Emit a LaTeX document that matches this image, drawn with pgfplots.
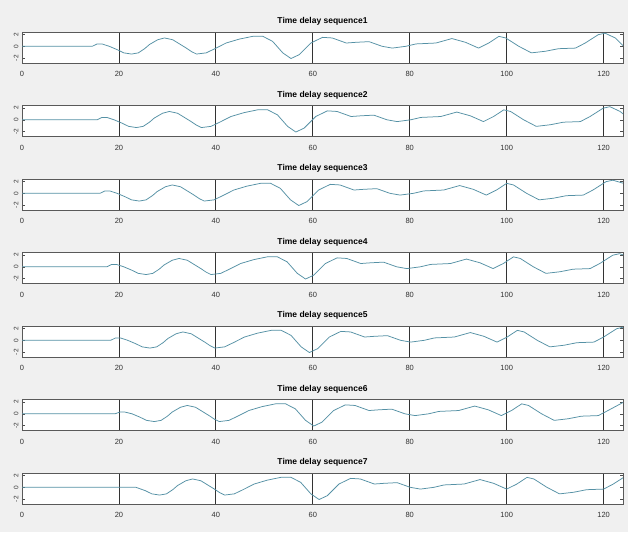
\documentclass[border=0pt]{standalone}
\usepackage{pgfplots}
\pgfplotsset{compat=1.18}
\usepackage{fontspec}
\setmainfont{Liberation Sans}
\definecolor{bgc}{RGB}{240,240,240}
\definecolor{lc}{RGB}{85,145,165}
\pgfplotsset{
  seqax/.style={
    scale only axis, width=601pt, height=31pt,
    anchor=north west,
    xmin=0, xmax=124, ymin=-2.8, ymax=2.4,
    axis background/.style={fill=white},
    axis line style={black!65, line width=0.7pt},
    xtick={0,20,...,120}, ytick={-2,0,2},
    xtick style={draw=none},
    xmajorgrids, major x grid style={black!80, line width=0.8pt},
    ytick pos=both, yticklabel pos=left,
    tick align=inside, major tick length=3pt,
    ytick style={black!70, line width=0.6pt},
    /pgf/number format/assume math mode=true,
    xticklabel style={font=\fontsize{7.5}{7.5}\selectfont, yshift=-5pt, text=black!80},
    yticklabel style={font=\fontsize{6.5}{6.5}\selectfont, rotate=90, anchor=south, text=black!80},
    title style={font=\bfseries\fontsize{8.5}{8.5}\selectfont, yshift=-3pt},
  },
  sig/.style={lc, line width=0.75pt, no markers, line join=round},
}
\begin{document}
\begin{tikzpicture}
\fill[bgc] (0pt,0pt) rectangle (628pt,532pt);
% 1
\begin{axis}[seqax, at={(22pt,500pt)}, title={Time delay sequence1}]
\addplot[sig] coordinates {(0,0) (14.5,0) (15.5,0.4) (16.5,0.4) (18,0) (19.6,-0.55) (21,-1.1) (22.6,-1.3) (24,-1.1) (25.3,-0.4) (26.3,0.3) (28,1.1) (29.4,1.4) (31.1,1.1) (32.5,0.4) (33.9,-0.3) (35,-0.9) (36,-1.3) (38,-1.1) (39.8,-0.4) (42.1,0.55) (44.8,1.2) (47.6,1.67) (49.7,1.67) (51.7,0.83) (53.8,-1.1) (55.5,-2.05) (57.2,-1.4) (59.6,0.55) (62,1.5) (64,1.4) (66.9,0.55) (68.9,0.67) (71.6,0.78) (74.3,0) (76.4,-0.3) (79.2,0) (81.3,0.4) (85.4,0.55) (88.7,1.3) (91.5,0.67) (94.2,-0.3) (96.3,0.55) (98.4,1.67) (99.8,1.4) (102.5,0) (105.1,-1.1) (108,-0.83) (110.7,-0.4) (114.2,-0.3) (116.2,0.55) (118.9,1.95) (120.3,2.2) (122.4,1.4) (124,0.1)};
\end{axis}
% 2
\begin{axis}[seqax, at={(22pt,426.5pt)}, title={Time delay sequence2}]
\addplot[sig] coordinates {(0,0) (15.5,0) (16.5,0.4) (17.5,0.4) (19,0) (20.6,-0.55) (22,-1.1) (23.6,-1.3) (25,-1.1) (26.3,-0.4) (27.3,0.3) (29,1.1) (30.4,1.4) (32.1,1.1) (33.5,0.4) (34.9,-0.3) (36,-0.9) (37,-1.3) (39,-1.1) (40.8,-0.4) (43.1,0.55) (45.8,1.2) (48.6,1.67) (50.7,1.67) (52.7,0.83) (54.8,-1.1) (56.5,-2.05) (58.2,-1.4) (60.6,0.55) (63,1.5) (65,1.4) (67.9,0.55) (69.9,0.67) (72.6,0.78) (75.3,0) (77.4,-0.3) (80.2,0) (82.3,0.4) (86.4,0.55) (89.7,1.3) (92.5,0.67) (95.2,-0.3) (97.3,0.55) (99.4,1.67) (100.8,1.4) (103.5,0) (106.1,-1.1) (109,-0.83) (111.7,-0.4) (115.2,-0.3) (117.2,0.55) (119.9,1.95) (121.3,2.2) (123.4,1.4) (124,1.0)};
\end{axis}
% 3
\begin{axis}[seqax, at={(22pt,353pt)}, title={Time delay sequence3}]
\addplot[sig] coordinates {(0,0) (16.1,0) (17.1,0.4) (18.1,0.4) (19.6,0) (21.2,-0.55) (22.6,-1.1) (24.2,-1.3) (25.6,-1.1) (26.9,-0.4) (27.9,0.3) (29.6,1.1) (31,1.4) (32.7,1.1) (34.1,0.4) (35.5,-0.3) (36.6,-0.9) (37.6,-1.3) (39.6,-1.1) (41.4,-0.4) (43.7,0.55) (46.4,1.2) (49.2,1.67) (51.3,1.67) (53.3,0.83) (55.4,-1.1) (57.1,-2.05) (58.8,-1.4) (61.2,0.55) (63.6,1.5) (65.6,1.4) (68.5,0.55) (70.5,0.67) (73.2,0.78) (75.9,0) (78,-0.3) (80.8,0) (82.9,0.4) (87,0.55) (90.3,1.3) (93.1,0.67) (95.8,-0.3) (97.9,0.55) (100,1.67) (101.4,1.4) (104.1,0) (106.7,-1.1) (109.6,-0.83) (112.3,-0.4) (115.8,-0.3) (117.8,0.55) (120.5,1.95) (121.9,2.2) (124,1.7)};
\end{axis}
% 4
\begin{axis}[seqax, at={(22pt,279.5pt)}, title={Time delay sequence4}]
\addplot[sig] coordinates {(0,0) (17.5,0) (18.5,0.4) (19.5,0.4) (21,0) (22.6,-0.55) (24,-1.1) (25.6,-1.3) (27,-1.1) (28.3,-0.4) (29.3,0.3) (31,1.1) (32.4,1.4) (34.1,1.1) (35.5,0.4) (36.9,-0.3) (38,-0.9) (39,-1.3) (41,-1.1) (42.8,-0.4) (45.1,0.55) (47.8,1.2) (50.6,1.67) (52.7,1.67) (54.7,0.83) (56.8,-1.1) (58.5,-2.05) (60.2,-1.4) (62.6,0.55) (65,1.5) (67,1.4) (69.9,0.55) (71.9,0.67) (74.6,0.78) (77.3,0) (79.4,-0.3) (82.2,0) (84.3,0.4) (88.4,0.55) (91.7,1.3) (94.5,0.67) (97.2,-0.3) (99.3,0.55) (101.4,1.67) (102.8,1.4) (105.5,0) (108.1,-1.1) (111,-0.83) (113.7,-0.4) (117.2,-0.3) (119.2,0.55) (121.9,1.95) (123.3,2.2) (124,2.0)};
\end{axis}
% 5
\begin{axis}[seqax, at={(22pt,206pt)}, title={Time delay sequence5}]
\addplot[sig] coordinates {(0,0) (18.3,0) (19.3,0.4) (20.3,0.4) (21.8,0) (23.4,-0.55) (24.8,-1.1) (26.4,-1.3) (27.8,-1.1) (29.1,-0.4) (30.1,0.3) (31.8,1.1) (33.2,1.4) (34.9,1.1) (36.3,0.4) (37.7,-0.3) (38.8,-0.9) (39.8,-1.3) (41.8,-1.1) (43.6,-0.4) (45.9,0.55) (48.6,1.2) (51.4,1.67) (53.5,1.67) (55.5,0.83) (57.6,-1.1) (59.3,-2.05) (61,-1.4) (63.4,0.55) (65.8,1.5) (67.8,1.4) (70.7,0.55) (72.7,0.67) (75.4,0.78) (78.1,0) (80.2,-0.3) (83,0) (85.1,0.4) (89.2,0.55) (92.5,1.3) (95.3,0.67) (98,-0.3) (100.1,0.55) (102.2,1.67) (103.6,1.4) (106.3,0) (108.9,-1.1) (111.8,-0.83) (114.5,-0.4) (118,-0.3) (120,0.55) (122.7,1.95) (124,2.2)};
\end{axis}
% 6
\begin{axis}[seqax, at={(22pt,132.5pt)}, title={Time delay sequence6}]
\addplot[sig] coordinates {(0,0) (19.2,0) (20.2,0.3) (21.2,0.3) (22.7,0) (24.3,-0.55) (25.7,-1.1) (27.3,-1.3) (28.7,-1.1) (30,-0.4) (31,0.3) (32.7,1.1) (34.1,1.4) (35.8,1.1) (37.2,0.4) (38.6,-0.3) (39.7,-0.9) (40.7,-1.3) (42.7,-1.1) (44.5,-0.4) (46.8,0.55) (49.5,1.2) (52.3,1.67) (54.4,1.67) (56.4,0.83) (58.5,-1.1) (60.2,-2.05) (61.9,-1.4) (64.3,0.55) (66.7,1.5) (68.7,1.4) (71.6,0.55) (73.6,0.67) (76.3,0.78) (79,0) (81.1,-0.3) (83.9,0) (86,0.4) (90.1,0.55) (93.4,1.3) (96.2,0.67) (98.9,-0.3) (101,0.55) (103.1,1.67) (104.5,1.4) (107.2,0) (109.8,-1.1) (112.7,-0.83) (115.4,-0.4) (118.9,-0.3) (120.9,0.55) (124,1.9)};
\end{axis}
% 7
\begin{axis}[seqax, at={(22pt,59pt)}, title={Time delay sequence7}]
\addplot[sig] coordinates {(0,0) (22,0) (23.5,0) (25.4,-0.55) (26.8,-1.1) (28.4,-1.3) (29.8,-1.1) (31.1,-0.4) (32.1,0.3) (33.8,1.1) (35.2,1.4) (36.9,1.1) (38.3,0.4) (39.7,-0.3) (40.8,-0.9) (41.8,-1.3) (43.8,-1.1) (45.6,-0.4) (47.9,0.55) (50.6,1.2) (53.4,1.67) (55.5,1.67) (57.5,0.83) (59.6,-1.1) (61.3,-2.05) (63,-1.4) (65.4,0.55) (67.8,1.5) (69.8,1.4) (72.7,0.55) (74.7,0.67) (77.4,0.78) (80.1,0) (82.2,-0.3) (85,0) (87.1,0.4) (91.2,0.55) (94.5,1.3) (97.3,0.67) (100,-0.3) (102.1,0.55) (104.2,1.67) (105.6,1.4) (108.3,0) (110.9,-1.1) (113.8,-0.83) (116.5,-0.4) (120,-0.3) (122,0.55) (124,1.6)};
\end{axis}
\end{tikzpicture}
\end{document}
